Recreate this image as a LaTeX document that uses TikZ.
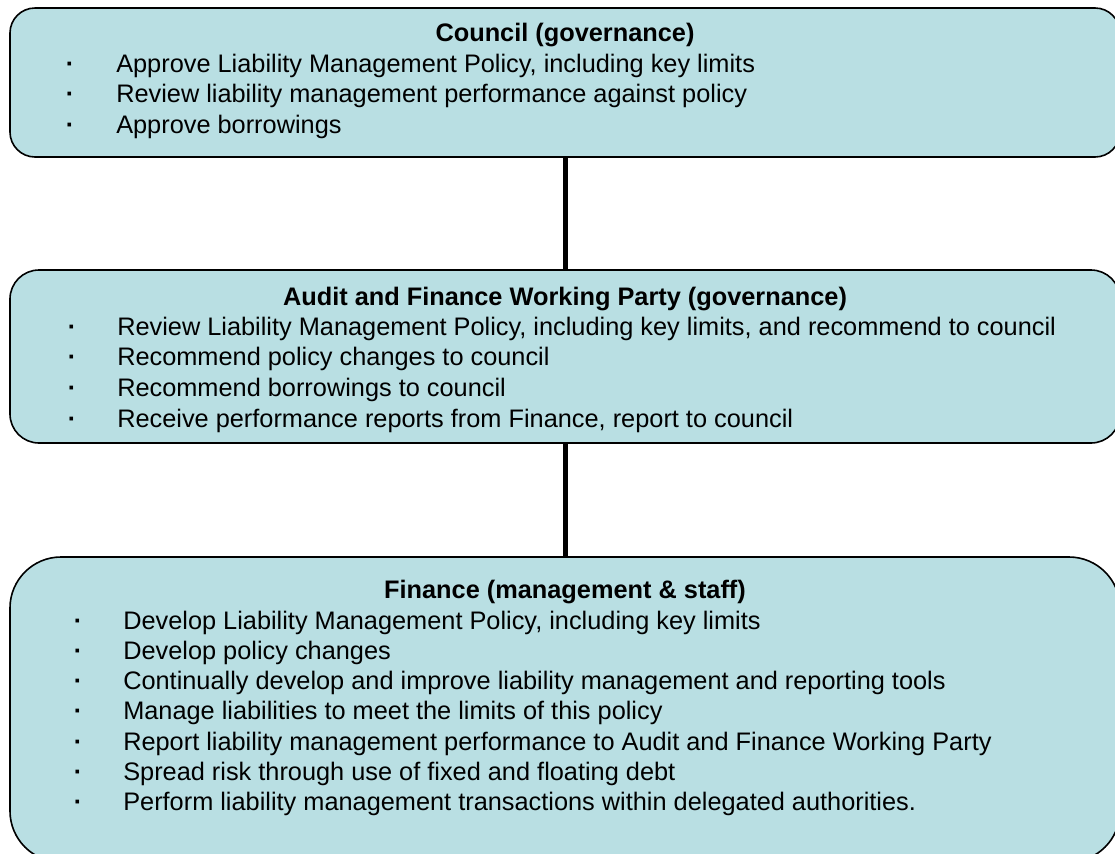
\documentclass[tikz,border=0pt]{standalone}
\usepackage{fontspec}
\setmainfont{Liberation Sans}
\usetikzlibrary{positioning}
\definecolor{paleteal}{RGB}{185,223,227}

\begin{document}
\begin{tikzpicture}[x=0.75pt,y=-0.75pt,
  panel/.style={rectangle, draw=black, line width=1.2pt, fill=paleteal, minimum width=832.5pt},
  heading/.style={font=\fontsize{19}{22}\selectfont\bfseries, anchor=base, inner sep=0pt},
  item/.style={font=\fontsize{19}{22}\selectfont, anchor=base west, inner sep=0pt},
  bulletmark/.style={font=\fontsize{19}{22}\selectfont\bfseries, anchor=base, inner sep=0pt},
  link/.style={line width=3.75pt}]
\clip (0,0) rectangle (1115,854);
\useasboundingbox (0,0) rectangle (1115,854);

% the three boxes
\node[panel, minimum height=111.75pt, rounded corners=18.75pt] (council) at (565,82.5) {};
\node[panel, minimum height=129.75pt, rounded corners=21.75pt] (audit) at (565,356.5) {};
\node[panel, minimum height=228.75pt, rounded corners=38.25pt] (finance) at (565,709.5) {};

\draw[link] (council.south) -- (audit.north);
\draw[link] (audit.south) -- (finance.north);

% council
\node[heading] (council-title) at (565,41) {Council (governance)};
\foreach \txt [count=\i] in {
  {Approve Liability Management Policy, including key limits},
  {Review liability management performance against policy},
  {Approve borrowings}}{
  \node[bulletmark] (council-b\i) at (70,{72+30.6*(\i-1)}) {·};
  \node[item] (council-\i) at (116,{72+30.6*(\i-1)}) {\txt};
}

% audit and finance working party
\node[heading] (audit-title) at (565,305) {Audit and Finance Working Party (governance)};
\foreach \txt [count=\i] in {
  {Review Liability Management Policy, including key limits, and recommend to council},
  {Recommend policy changes to council},
  {Recommend borrowings to council},
  {Receive performance reports from Finance, report to council}}{
  \node[bulletmark] (audit-b\i) at (72,{335+30.7*(\i-1)}) {·};
  \node[item] (audit-\i) at (117,{335+30.7*(\i-1)}) {\txt};
}

% finance
\node[heading] (finance-title) at (565,598) {Finance (management \& staff)};
\foreach \txt [count=\i] in {
  {Develop Liability Management Policy, including key limits},
  {Develop policy changes},
  {Continually develop and improve liability management and reporting tools},
  {Manage liabilities to meet the limits of this policy},
  {Report liability management performance to Audit and Finance Working Party},
  {Spread risk through use of fixed and floating debt},
  {Perform liability management transactions within delegated authorities.}}{
  \node[bulletmark] (finance-b\i) at (78,{629+30.3*(\i-1)}) {·};
  \node[item] (finance-\i) at (123,{629+30.3*(\i-1)}) {\txt};
}
\end{tikzpicture}
\end{document}
